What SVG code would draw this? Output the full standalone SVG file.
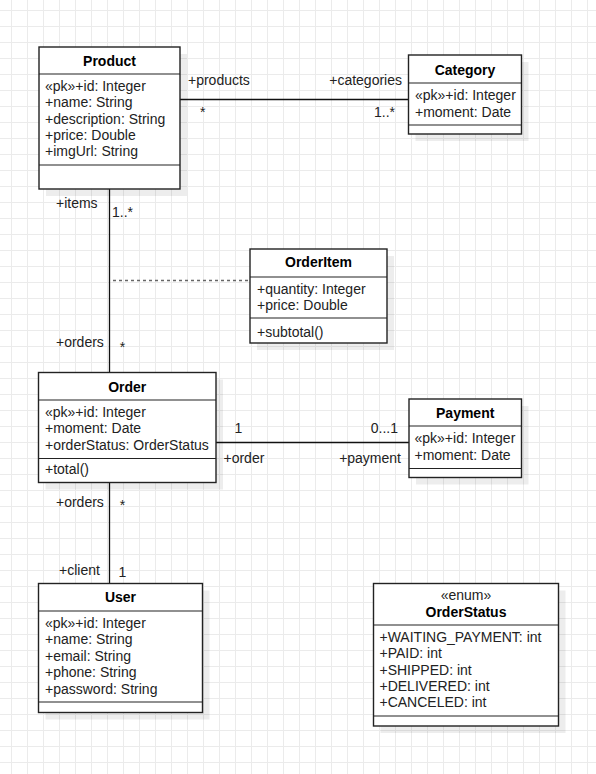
<svg xmlns="http://www.w3.org/2000/svg" width="596" height="774" viewBox="0 0 596 774">
<defs>
<pattern id="grid" x="11" y="10" width="16" height="16" patternUnits="userSpaceOnUse">
<rect x="0" y="0" width="1" height="16" fill="#ebebeb"/>
<rect x="0" y="0" width="16" height="1" fill="#ebebeb"/>
</pattern>
</defs>
<style>
text{font-family:"Liberation Sans",Arial,sans-serif;font-size:14px;fill:#222}
.t{font-weight:bold;fill:#000;text-anchor:middle}
.st{text-anchor:middle}
.box{fill:#fff;stroke:#222;stroke-width:1.4}
.sh{fill:#000;fill-opacity:0.07}
.sep{stroke:#222;stroke-width:1.2}
.ln{stroke:#111;stroke-width:1.3;fill:none}
.dash{stroke:#666;stroke-width:1.3;stroke-dasharray:3 3;fill:none}
.e{text-anchor:end}
.m{text-anchor:middle}
</style>
<rect width="596" height="774" fill="#fff"/>
<rect width="596" height="774" fill="url(#grid)"/>

<g id="connectors">
<line class="ln" x1="180" y1="99.5" x2="408.5" y2="99.5"/>
<text x="188" y="85">+products</text>
<text x="200" y="117">*</text>
<text class="e" x="402" y="85">+categories</text>
<text class="e" x="395" y="117">1..*</text>

<line class="ln" x1="109.5" y1="189" x2="109.5" y2="372.5"/>
<text x="56" y="207.5">+items</text>
<text x="112" y="216.5">1..*</text>
<line class="dash" x1="113" y1="280.5" x2="250" y2="280.5"/>
<text x="56" y="347">+orders</text>
<text class="m" x="122.5" y="352">*</text>

<line class="ln" x1="216" y1="442.5" x2="409" y2="442.5"/>
<text class="m" x="238.5" y="432.5">1</text>
<text class="e" x="398" y="432.5">0...1</text>
<text x="223.5" y="462.5">+order</text>
<text class="e" x="401" y="462.5">+payment</text>

<line class="ln" x1="109.5" y1="482.5" x2="109.5" y2="583.5"/>
<text x="56" y="506.5">+orders</text>
<text class="m" x="122.5" y="510">*</text>
<text x="59" y="575">+client</text>
<text class="m" x="122.5" y="576.5">1</text>
</g>

<g id="Product">
<rect class="sh" x="46" y="54" width="141" height="142"/>
<rect class="box" x="39" y="47" width="141" height="142"/>
<line class="sep" x1="39" y1="74" x2="180" y2="74"/>
<line class="sep" x1="39" y1="165" x2="180" y2="165"/>
<text class="t" x="109.5" y="65.5">Product</text>
<text x="45" y="91">«pk»+id: Integer</text>
<text x="45" y="107.3">+name: String</text>
<text x="45" y="123.6">+description: String</text>
<text x="45" y="140">+price: Double</text>
<text x="45" y="156.3">+imgUrl: String</text>
</g>

<g id="Category">
<rect class="sh" x="415.5" y="62" width="113" height="79"/>
<rect class="box" x="408.5" y="55" width="113" height="79"/>
<line class="sep" x1="408.5" y1="83" x2="521.5" y2="83"/>
<line class="sep" x1="408.5" y1="125" x2="521.5" y2="125"/>
<text class="t" x="465" y="75">Category</text>
<text x="415" y="99.5">«pk»+id: Integer</text>
<text x="415" y="116.5">+moment: Date</text>
</g>

<g id="OrderItem">
<rect class="sh" x="257" y="256" width="137" height="94"/>
<rect class="box" x="250" y="249" width="137" height="94"/>
<line class="sep" x1="250" y1="277" x2="387" y2="277"/>
<line class="sep" x1="250" y1="318" x2="387" y2="318"/>
<text class="t" x="318.5" y="267">OrderItem</text>
<text x="257" y="293.5">+quantity: Integer</text>
<text x="257" y="309.5">+price: Double</text>
<text x="257" y="336.5">+subtotal()</text>
</g>

<g id="Order">
<rect class="sh" x="45.5" y="379.5" width="177.5" height="110"/>
<rect class="box" x="38.5" y="372.5" width="177.5" height="110"/>
<line class="sep" x1="38.5" y1="400" x2="216" y2="400"/>
<line class="sep" x1="38.5" y1="458.5" x2="216" y2="458.5"/>
<text class="t" x="127.2" y="391.5">Order</text>
<text x="45" y="416.5">«pk»+id: Integer</text>
<text x="45" y="433">+moment: Date</text>
<text x="45" y="450">+orderStatus: OrderStatus</text>
<text x="45" y="474">+total()</text>
</g>

<g id="Payment">
<rect class="sh" x="416" y="406" width="112.5" height="78.5"/>
<rect class="box" x="409" y="399" width="112.5" height="78.5"/>
<line class="sep" x1="409" y1="426" x2="521.5" y2="426"/>
<line class="sep" x1="409" y1="468.5" x2="521.5" y2="468.5"/>
<text class="t" x="465.2" y="417.5">Payment</text>
<text x="414.5" y="442.5">«pk»+id: Integer</text>
<text x="414.5" y="460">+moment: Date</text>
</g>

<g id="User">
<rect class="sh" x="45.5" y="590.5" width="164" height="129"/>
<rect class="box" x="38.5" y="583.5" width="164" height="129"/>
<line class="sep" x1="38.5" y1="611" x2="202.5" y2="611"/>
<line class="sep" x1="38.5" y1="702" x2="202.5" y2="702"/>
<text class="t" x="120.5" y="602">User</text>
<text x="45" y="627.7">«pk»+id: Integer</text>
<text x="45" y="644.2">+name: String</text>
<text x="45" y="660.7">+email: String</text>
<text x="45" y="677.2">+phone: String</text>
<text x="45" y="693.7">+password: String</text>
</g>

<g id="OrderStatus">
<rect class="sh" x="380.5" y="590.5" width="185" height="142.5"/>
<rect class="box" x="373.5" y="583.5" width="185" height="142.5"/>
<line class="sep" x1="373.5" y1="625" x2="558.5" y2="625"/>
<line class="sep" x1="373.5" y1="716" x2="558.5" y2="716"/>
<text class="st" x="466" y="600">«enum»</text>
<text class="t" x="466" y="616.7">OrderStatus</text>
<text x="379.5" y="641.7">+WAITING_PAYMENT: int</text>
<text x="379.5" y="658.2">+PAID: int</text>
<text x="379.5" y="674.5">+SHIPPED: int</text>
<text x="379.5" y="691">+DELIVERED: int</text>
<text x="379.5" y="707.3">+CANCELED: int</text>
</g>
</svg>
